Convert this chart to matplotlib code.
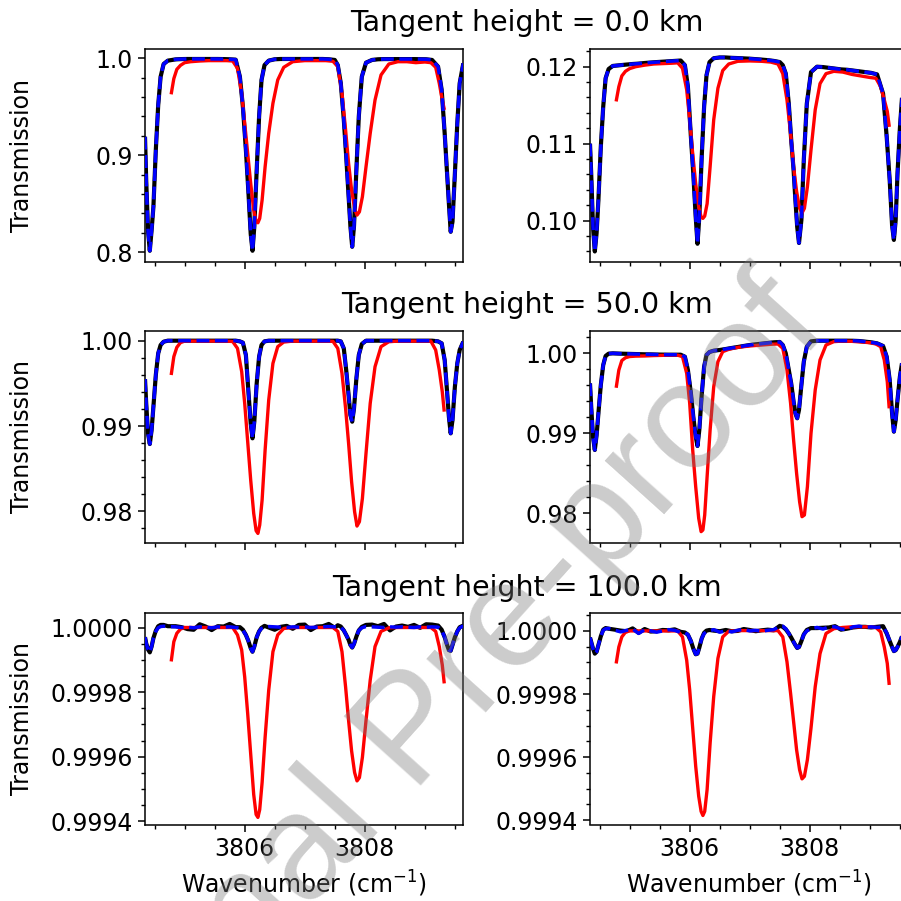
import matplotlib
matplotlib.use("Agg")
import matplotlib.pyplot as plt
from matplotlib.ticker import MultipleLocator, AutoMinorLocator, ScalarFormatter

# ---------------- data ----------------
heights = ["0.0", "50.0", "100.0"]

wn_model = [
    3804.34, 3804.36, 3804.39, 3804.42, 3804.45, 3804.48, 3804.52, 3804.56, 3804.60, 3804.65, 3804.72,
    3804.85, 3804.95, 3805.05, 3805.15, 3805.25, 3805.35, 3805.45, 3805.55, 3805.65, 3805.75, 3805.85,
    3805.92, 3805.97, 3806.02, 3806.06, 3806.10, 3806.13, 3806.16, 3806.20, 3806.24, 3806.28, 3806.33, 3806.40,
    3806.50, 3806.60, 3806.70, 3806.80, 3806.90, 3807.00, 3807.10, 3807.20, 3807.30, 3807.40, 3807.50,
    3807.55, 3807.60, 3807.65, 3807.69, 3807.73, 3807.76, 3807.79, 3807.82, 3807.86, 3807.90, 3807.95, 3808.02,
    3808.12, 3808.22, 3808.32, 3808.42, 3808.52, 3808.62, 3808.72, 3808.82, 3808.92, 3809.02, 3809.12,
    3809.22, 3809.28, 3809.33, 3809.37, 3809.40, 3809.43, 3809.46, 3809.50, 3809.54, 3809.58, 3809.64]

wn_alt = [
    3804.78, 3804.82, 3804.87, 3804.93, 3805.00, 3805.10, 3805.25, 3805.40, 3805.55, 3805.70, 3805.80,
    3805.88, 3805.95, 3806.00, 3806.05, 3806.10, 3806.15, 3806.19, 3806.22, 3806.25, 3806.29, 3806.34, 3806.40, 3806.47, 3806.55, 3806.65,
    3806.80, 3807.00, 3807.20, 3807.35, 3807.47,
    3807.55, 3807.62, 3807.68, 3807.73, 3807.78, 3807.83, 3807.87, 3807.91, 3807.96, 3808.02, 3808.09, 3808.17, 3808.27, 3808.40,
    3808.55, 3808.70, 3808.85, 3809.00, 3809.10, 3809.18, 3809.24, 3809.29, 3809.32]

# ---- 0 km, left ----
fast_0_left = [
    0.919, 0.874, 0.8226, 0.8013, 0.8226, 0.8467, 0.9053, 0.9518, 0.981, 0.9941, 0.9976,
    0.9989, 0.9992, 0.9993, 0.9993, 0.9993, 0.9993, 0.9993, 0.9993, 0.9992, 0.9990, 0.9986,
    0.981, 0.950, 0.9053, 0.864, 0.8189, 0.8013, 0.826, 0.885, 0.940, 0.9776, 0.9930, 0.9976,
    0.9990, 0.9993, 0.9993, 0.9993, 0.9993, 0.9993, 0.9993, 0.9993, 0.9993, 0.9990, 0.9983,
    0.9930, 0.9743, 0.9370, 0.8991, 0.8578, 0.8268, 0.8054, 0.8268, 0.8853, 0.940, 0.981, 0.9955,
    0.9983, 0.9990, 0.9992, 0.9992, 0.9992, 0.9992, 0.9992, 0.9992, 0.9991, 0.9990, 0.9983,
    0.9914, 0.9673, 0.9225, 0.8812, 0.8502, 0.8209, 0.8313, 0.8812, 0.9329, 0.9743, 0.9948]
ref_0_left = list(fast_0_left)
alt_0_left = [
    0.9645, 0.979, 0.9886, 0.9927, 0.9955, 0.9965, 0.9972, 0.9976, 0.9976, 0.9976, 0.9972,
    0.9897, 0.9638, 0.9329, 0.9019, 0.8709, 0.8433, 0.8312, 0.8302, 0.8347, 0.8536, 0.8880, 0.9225, 0.9535, 0.9776, 0.9907,
    0.9965, 0.9976, 0.9976, 0.9976, 0.9969,
    0.9914, 0.9638, 0.9260, 0.8915, 0.8640, 0.8450, 0.8381, 0.8415, 0.8571, 0.8880, 0.9225, 0.9569, 0.9828, 0.9941,
    0.9965, 0.9965, 0.9955, 0.9962, 0.9955, 0.9907, 0.9741, 0.9569, 0.9484]

# ---- 0 km, right ----
fast_0_right = [
    0.1100, 0.1061, 0.0992, 0.0960, 0.0984, 0.1027, 0.1096, 0.1148, 0.1185, 0.1197, 0.1201,
    0.1202, 0.12028, 0.12035, 0.1204, 0.12048, 0.12054, 0.1206, 0.12065, 0.1207, 0.12075, 0.1208,
    0.1202, 0.1174, 0.1109, 0.1061, 0.1005, 0.0970, 0.1005, 0.1083, 0.1148, 0.1189, 0.1206, 0.1211,
    0.1212, 0.1212, 0.12115, 0.12112, 0.12108, 0.12104, 0.12098, 0.12092, 0.12085, 0.12075, 0.1206,
    0.1202, 0.1191, 0.1152, 0.1105, 0.1066, 0.1027, 0.0992, 0.0971, 0.1001, 0.1079, 0.1152, 0.1193,
    0.1200, 0.11995, 0.11985, 0.11975, 0.11965, 0.1196, 0.1195, 0.1194, 0.1193, 0.1192, 0.1190,
    0.1165, 0.1109, 0.1053, 0.0994, 0.0975, 0.1001, 0.1061, 0.1120, 0.1165, 0.1190, 0.1198]
ref_0_right = list(fast_0_right)
alt_0_right = [
    0.1157, 0.1174, 0.1188, 0.1194, 0.11975, 0.1200, 0.1202, 0.12035, 0.1204, 0.12045, 0.1205,
    0.1198, 0.1170, 0.1131, 0.1087, 0.1048, 0.1018, 0.1005, 0.1003, 0.1006, 0.1022, 0.1070, 0.1131, 0.1172, 0.1195, 0.12035,
    0.1207, 0.12075, 0.1207, 0.1206, 0.12035,
    0.1191, 0.11567, 0.1113, 0.1070, 0.1038, 0.1016, 0.1010, 0.1016, 0.1044, 0.1092, 0.1144, 0.1178, 0.1191, 0.1194,
    0.1193, 0.1190, 0.1188, 0.1186, 0.1185, 0.1174, 0.1157, 0.1142, 0.1124]

# ---- 50 km, left ----
fast_50_left = [
    0.9955, 0.99266, 0.98914, 0.98789, 0.98953, 0.99227, 0.99598, 0.99852, 0.99949, 0.99988, 1.0,
    1.0, 1.0, 1.0, 1.0, 1.0, 1.0, 1.0, 1.0, 1.0, 1.0, 1.0,
    0.99992, 0.99977, 0.99832, 0.99422, 0.99031, 0.98856, 0.99051, 0.995, 0.99813, 0.99949, 0.99992, 1.0,
    1.0, 1.0, 1.0, 1.0, 1.0, 1.0, 1.0, 1.0, 1.0, 1.0, 1.0,
    1.0, 0.99992, 0.9991, 0.99656, 0.99363, 0.99129, 0.99051, 0.99207, 0.99559, 0.99832, 0.99961, 1.0,
    1.0, 1.0, 1.0, 1.0, 1.0, 1.0, 1.0, 1.0, 1.0, 1.0, 1.0,
    0.99992, 0.99969, 0.99773, 0.99402, 0.99109, 0.98914, 0.9907, 0.99461, 0.99734, 0.99891, 0.99988]
ref_50_left = list(fast_50_left)
alt_50_left = [
    0.99617, 0.99813, 0.99922, 0.99977, 0.99995, 0.99995, 0.99995, 0.99995, 0.99995, 0.99995, 0.9999,
    0.9991, 0.99637, 0.99266, 0.98816, 0.98367, 0.97977, 0.97774, 0.97742, 0.9784, 0.98133, 0.98719, 0.99305, 0.99734, 0.9993, 0.99984,
    0.99995, 0.99995, 0.99995, 0.99995, 0.99992,
    0.9991, 0.99617, 0.99207, 0.98797, 0.98348, 0.97996, 0.97828, 0.97879, 0.98152, 0.9868, 0.99266, 0.99695, 0.9993, 0.99988,
    0.99995, 0.99995, 0.99995, 0.99995, 0.99995, 0.99891, 0.99656, 0.99402, 0.99188]

# ---- 50 km, right ----
fast_50_right = [
    0.99625, 0.99333, 0.98958, 0.98792, 0.98979, 0.9925, 0.99604, 0.99854, 0.99967, 0.99996, 1.0,
    0.99996, 0.99994, 0.99992, 0.9999, 0.99988, 0.99987, 0.99985, 0.99984, 0.99983, 0.99983, 0.99983,
    0.99958, 0.99792, 0.995, 0.99208, 0.98958, 0.98842, 0.99042, 0.99479, 0.99833, 0.99979, 1.00017, 1.00033,
    1.00042, 1.00054, 1.00067, 1.00079, 1.00092, 1.00104, 1.00113, 1.00121, 1.00129, 1.00138, 1.00142,
    1.00104, 1.0, 0.99792, 0.99625, 0.99396, 0.9925, 0.99188, 0.99292, 0.99604, 0.99896, 1.00083, 1.0015,
    1.00158, 1.00158, 1.00158, 1.00158, 1.00158, 1.00158, 1.00157, 1.00154, 1.00146, 1.00138, 1.00125,
    1.00092, 0.99958, 0.99667, 0.9925, 0.99021, 0.99167, 0.99417, 0.99708, 0.9990, 0.9997, 1.0]
ref_50_right = list(fast_50_right)
alt_50_right = [
    0.9959, 0.9979, 0.9991, 0.99945, 0.9996, 0.99965, 0.99967, 0.99972, 0.99975, 0.99977, 0.99977,
    0.99958, 0.9975, 0.99375, 0.98792, 0.98333, 0.97938, 0.97771, 0.97792, 0.97979, 0.98458, 0.99042, 0.99583, 0.99896, 1.00021, 1.0005,
    1.00075, 1.00092, 1.00104, 1.00113, 1.00117,
    1.00063, 0.99792, 0.99375, 0.98917, 0.985, 0.98146, 0.97958, 0.97979, 0.98333, 0.99, 0.99542, 0.99917, 1.00104, 1.00146,
    1.00154, 1.0015, 1.00142, 1.00133, 1.00117, 1.00083, 0.99917, 0.99646, 0.99333]

# ---- 100 km, left ----
fast_100_left = [
    0.99997, 0.999951, 0.999932, 0.999923, 0.999941, 0.999967, 0.999988, 0.999999, 1.000003, 1.000004, 1.000003,
    1.000002, 1.0, 1.000001, 0.999999, 1.000002, 1.000001, 0.999999, 1.000002, 1.000001, 1.000002, 1.0,
    0.999998, 0.999991, 0.999977, 0.999959, 0.999936, 0.999925, 0.999941, 0.99997, 0.999988, 0.999997, 1.000001, 1.000003,
    1.000002, 1.000001, 1.0, 1.000002, 1.000001, 1.000002, 1.0, 1.000001, 1.000002, 1.000003, 1.000002,
    1.000002, 1.000001, 0.999991, 0.999977, 0.999962, 0.999946, 0.999938, 0.999949, 0.999972, 0.999991, 0.999999, 1.000003,
    1.000002, 1.000001, 1.0, 1.000002, 1.000001, 1.000002, 1.000001, 1.0, 1.000002, 1.000001, 1.000002,
    1.000001, 0.999991, 0.99997, 0.999946, 0.99993, 0.999928, 0.999946, 0.99997, 0.999988, 0.999999, 1.000005]
ref_100_left = [
    0.99997, 0.999951, 0.999932, 0.999923, 0.999941, 0.999967, 0.99999, 1.000004, 1.000008, 1.000008, 1.000004,
    1.000004, 1.000001, 0.999995, 0.999993, 1.00001, 1.000003, 0.999992, 1.000004, 1.000003, 1.000011, 1.000001,
    1.000001, 0.999993, 0.999977, 0.999959, 0.999936, 0.999925, 0.999941, 0.99997, 0.999988, 0.999999, 1.000005, 1.0,
    0.999993, 1.000002, 1.000005, 0.999996, 1.000008, 1.000009, 0.999992, 1.000003, 1.000004, 1.000011, 0.999999,
    1.000007, 1.000003, 0.999991, 0.999977, 0.999962, 0.999946, 0.999938, 0.999949, 0.999972, 0.999991, 1.000002, 1.000008,
    1.000009, 1.000004, 1.000011, 0.999991, 1.000003, 1.000006, 1.000002, 1.000008, 0.999999, 1.00001, 1.000009,
    1.000006, 0.999993, 0.99997, 0.999946, 0.99993, 0.999928, 0.999946, 0.99997, 0.999988, 1.000001, 1.000006]
alt_100_left = [
    0.9999, 0.999956, 0.999982, 0.999995, 1.0, 1.0, 1.0, 1.0, 1.0, 1.0, 1.0,
    0.999977, 0.99993, 0.999847, 0.999733, 0.999608, 0.999483, 0.999421, 0.999412, 0.999436, 0.99952, 0.99966, 0.999806, 0.999925, 0.999977, 0.999997,
    1.0, 1.0, 1.0, 1.0, 1.0,
    0.999988, 0.999925, 0.999816, 0.999712, 0.999618, 0.999551, 0.999525, 0.999535, 0.999598, 0.999712, 0.999837, 0.999941, 0.999988, 0.999999,
    1.0, 1.0, 1.0, 1.0, 1.0, 0.999988, 0.999941, 0.999884, 0.999832]

# ---- 100 km, right ----
fast_100_right = [
    0.999979, 0.999965, 0.999944, 0.999928, 0.999934, 0.999955, 0.999983, 1.000002, 1.000007, 1.000008, 1.000004,
    0.999997, 1.000002, 1.000006, 0.999992, 1.000004, 1.0, 0.999996, 1.0, 1.000004, 1.000002, 0.999995,
    0.999994, 0.999989, 0.999968, 0.999944, 0.999926, 0.999928, 0.999947, 0.999976, 0.999992, 0.999997, 1.0, 1.000004,
    0.999996, 1.0, 0.999997, 1.000002, 1.000005, 1.0, 1.000002, 0.999999, 1.000002, 1.000004, 1.000015,
    1.000015, 1.000007, 0.999992, 0.999979, 0.999965, 0.999955, 0.999946, 0.999949, 0.999968, 0.999989, 1.0, 1.000007,
    1.000011, 1.000006, 1.000013, 1.000013, 1.000006, 1.000004, 1.000013, 1.000015, 1.000011, 1.000013, 1.000011,
    1.000013, 0.999994, 0.999968, 0.999949, 0.999936, 0.999939, 0.999949, 0.999965, 0.999985, 0.999998, 1.000004]
ref_100_right = [
    0.999979, 0.999965, 0.999944, 0.999928, 0.999934, 0.999955, 0.999983, 1.000004, 1.000009, 1.000007, 1.000005,
    1.000001, 0.999999, 1.000008, 0.999994, 1.000006, 0.999998, 0.999999, 1.000003, 1.000002, 1.000005, 0.999997,
    0.999995, 0.999988, 0.999968, 0.999944, 0.999926, 0.999928, 0.999947, 0.999976, 0.999994, 1.000001, 1.000003, 1.000001,
    0.999999, 1.000003, 0.999999, 1.0, 1.000006, 1.000003, 0.999999, 1.000002, 1.000004, 1.000002, 1.000016,
    1.000013, 1.000005, 0.999992, 0.999979, 0.999965, 0.999955, 0.999946, 0.999949, 0.999968, 0.999989, 1.000003, 1.000009,
    1.000009, 1.00001, 1.000011, 1.000015, 1.000004, 1.000007, 1.000011, 1.000013, 1.000013, 1.000011, 1.000013,
    1.000015, 0.999992, 0.999968, 0.999949, 0.999936, 0.999939, 0.999949, 0.999965, 0.999985, 0.999998, 1.000004]
alt_100_right = [
    0.999902, 0.999949, 0.999981, 0.999996, 1.0, 1.0, 1.0, 1.0, 1.0, 1.0, 1.0,
    0.999981, 0.999907, 0.999813, 0.999692, 0.999571, 0.999476, 0.999428, 0.999415, 0.999428, 0.999497, 0.999644, 0.999792, 0.999913, 0.999981, 0.999999,
    1.000001, 1.000001, 1.000001, 1.000001, 1.000001,
    0.999981, 0.999902, 0.999802, 0.999713, 0.999623, 0.99956, 0.999531, 0.999539, 0.999592, 0.999692, 0.999823, 0.999928, 0.999992, 1.000007,
    1.000011, 1.000013, 1.000013, 1.000013, 1.000011, 0.999997, 0.999949, 0.999897, 0.999834]

ref_series = [[ref_0_left, ref_0_right], [ref_50_left, ref_50_right], [ref_100_left, ref_100_right]]
fast_series = [[fast_0_left, fast_0_right], [fast_50_left, fast_50_right], [fast_100_left, fast_100_right]]
alt_series = [[alt_0_left, alt_0_right], [alt_50_left, alt_50_right], [alt_100_left, alt_100_right]]

y_limits = [[(0.790, 1.0093), (0.09467, 0.12226)],
            [(0.97633, 1.00117), (0.97633, 1.00283)],
            [(0.99939, 1.0000449), (0.9993864, 1.0000568)]]
y_major = [[0.1, 0.01], [0.01, 0.01], [0.0002, 0.0002]]
x_limits = (3804.34, 3809.64)

# ---------------- figure ----------------
W = H = 901
fig = plt.figure(figsize=(W / 100, H / 100), dpi=100)
plt.rcParams["font.family"] = ["DejaVu Sans"]
FS = 17

col_left_px = [145, 590]
ax_w_px = 318.3
row_top_px = [49.3, 330.7, 613.0]
row_bot_px = [261.7, 542.7, 824.5]

for r in range(3):
    for c in range(2):
        l = col_left_px[c] / W
        b = 1 - row_bot_px[r] / H
        h = (row_bot_px[r] - row_top_px[r]) / H
        ax = fig.add_axes([l, b, ax_w_px / W, h])
        ax.plot(wn_model, ref_series[r][c], color="black", lw=3.0, solid_capstyle="butt", zorder=2)
        ax.plot(wn_alt, alt_series[r][c], color="red", lw=2.4, zorder=3)
        ax.plot(wn_model, fast_series[r][c], color="blue", lw=2.5, ls="--", zorder=4)
        ax.set_xlim(*x_limits)
        ax.set_ylim(*y_limits[r][c])
        ax.xaxis.set_major_locator(MultipleLocator(2))
        ax.xaxis.set_minor_locator(AutoMinorLocator())
        ax.yaxis.set_major_locator(MultipleLocator(y_major[r][c]))
        ax.yaxis.set_minor_locator(AutoMinorLocator())
        fmt = ScalarFormatter(useOffset=False)
        ax.yaxis.set_major_formatter(fmt)
        ax.tick_params(which="major", length=5.3, width=1.1, labelsize=FS)
        ax.tick_params(which="minor", length=3.0, width=1.0)
        for sp in ax.spines.values():
            sp.set_linewidth(1.1)
        if r < 2:
            ax.tick_params(labelbottom=False)
        else:
            ax.set_xlabel("Wavenumber (cm$^{-1}$)", fontsize=FS, labelpad=6)
        if c == 0:
            ax.set_ylabel("Transmission", fontsize=FS)
            ax.yaxis.set_label_coords((34 - 145) / ax_w_px, 0.5)

title_y_px = [23, 305, 588]
for r in range(3):
    fig.text(526.5 / W, 1 - title_y_px[r] / H, f"Tangent height = {heights[r]} km",
             fontsize=20.5, ha="center", va="center")

# watermark
fig.text(414 / W, 1 - 734 / H, "Journal Pre-proof", fontsize=108, family="Liberation Sans",
         color=(0.47, 0.47, 0.47), alpha=0.38, rotation=48, ha="center", va="center", zorder=10)

fig.savefig("out.png", dpi=100)
